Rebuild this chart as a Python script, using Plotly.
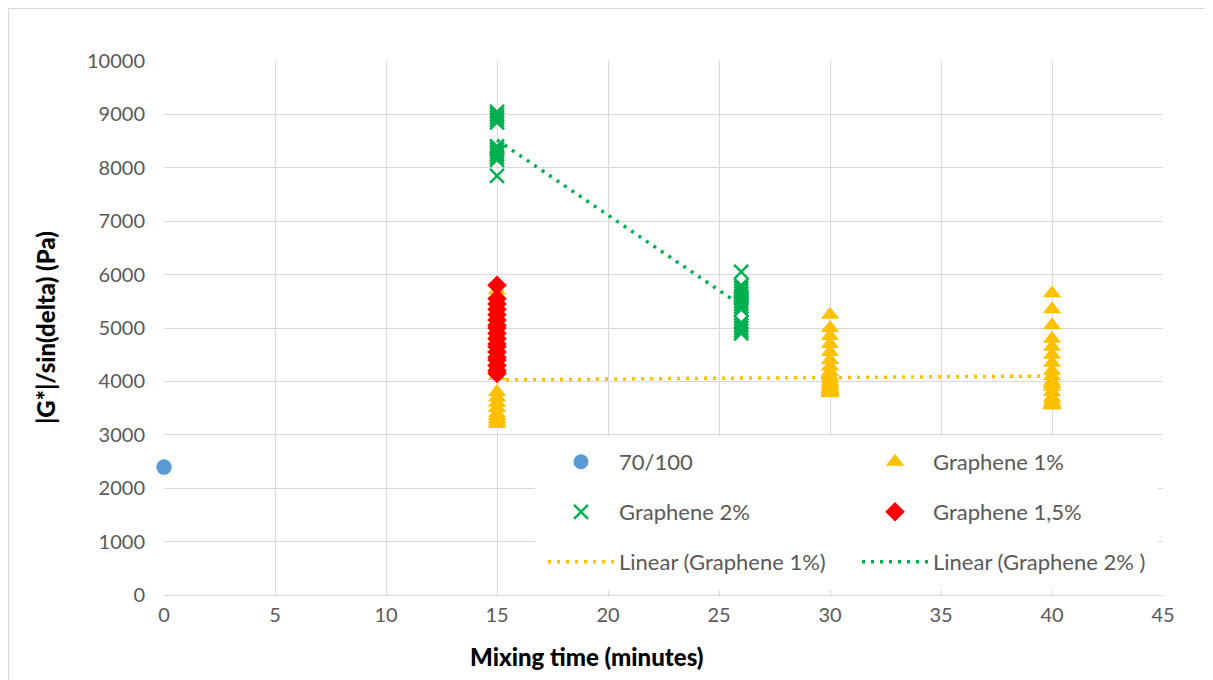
import numpy as np
import plotly.graph_objects as go

# ---- data ----
x_base = [0, 0]
y_base = [2390, 2400]

x_g1 = [15]*19 + [30]*29 + [40]*23
y_g1 = ([3200, 3250, 3300, 3300, 3350, 3400, 3500, 3500, 3600, 3700, 3800,
         4100, 4300, 4500, 4700, 4900, 5100, 5300, 5700] +
        [3780, 3790, 3800, 3810, 3820, 3840, 3860, 3880, 3900, 3930, 3960, 4000,
         4050, 4100, 4180, 4280, 4400, 4550, 4700, 4850, 5000, 5250,
         3800, 3800, 3800, 3800, 3800, 3800, 3800] +
        [3550, 3560, 3580, 3600, 3650, 3700, 3800, 3900, 3950, 4000, 4100, 4200,
         4350, 4500, 4650, 4800, 5050, 5350, 5650, 3560, 3560, 3560, 3560])

x_g2 = [15]*12 + [26]*16
y_g2 = ([7850, 8150, 8200, 8250, 8300, 8350, 8400, 8850, 8900, 8950, 9000, 9050] +
        [4900, 4950, 5000, 5050, 5100, 5350, 5400, 5450, 5500, 5550, 5600, 5650,
         5700, 5750, 5800, 6050])

x_g15 = [15]*18
y_g15 = [4150, 4200, 4300, 4400, 4450, 4550, 4650, 4700, 4800, 4900, 5000, 5050,
         5150, 5250, 5350, 5450, 5550, 5800]

x_ticks = [0, 5, 10, 15, 20, 25, 30, 35, 40, 45]
y_ticks = [0, 1000, 2000, 3000, 4000, 5000, 6000, 7000, 8000, 9000, 10000]
y_tick_text = [str(v) for v in y_ticks]

# ---- trend lines (least squares) ----
def trend(xs, ys):
    b, a = np.polyfit(xs, ys, 1)
    xr = [min(xs), max(xs)]
    return xr, [a + b * v for v in xr]

t1x, t1y = trend(x_g1, y_g1)
t2x, t2y = trend(x_g2, y_g2)

BLUE = "#5B9BD5"
YEL = "#FFC000"
GRN = "#00B050"
RED = "#FF0000"
FONT = "Lato"
GRID = "#D9D9D9"
TXT = "#595959"

fig = go.Figure()
fig.add_trace(go.Scatter(x=t1x, y=t1y, mode="lines", name="Linear (Graphene 1%)",
                         line=dict(color=YEL, width=3.5, dash="3px,6px"), legend="legend5"))
fig.add_trace(go.Scatter(x=t2x, y=t2y, mode="lines", name="Linear (Graphene 2% )",
                         line=dict(color=GRN, width=3.5, dash="3px,6px"), legend="legend6"))
fig.add_trace(go.Scatter(x=x_base, y=y_base, mode="markers", name="70/100", cliponaxis=False,
                         marker=dict(symbol="circle", size=15, color=BLUE), legend="legend"))
fig.add_trace(go.Scatter(x=x_g1, y=y_g1, mode="markers", name="Graphene 1%", cliponaxis=False,
                         marker=dict(symbol="triangle-up", size=16, color=YEL), legend="legend2"))
fig.add_trace(go.Scatter(x=x_g2, y=y_g2, mode="markers", name="Graphene 2%", cliponaxis=False,
                         marker=dict(symbol="x-thin", size=14, color=GRN,
                                     line=dict(color=GRN, width=2.4)), legend="legend3"))
fig.add_trace(go.Scatter(x=x_g15, y=y_g15, mode="markers", name="Graphene 1,5%", cliponaxis=False,
                         marker=dict(symbol="diamond", size=15, color=RED), legend="legend4"))

# page is offset by the 8px body margin of the html page
OFF = 8
W, H = 1213, 680
L, R, T, B = 164, 1163, 61, 595          # plot area in page pixels
def px(xp):
    return (xp - L) / (R - L)
def py(yp):
    return (B - yp) / (B - T)

leg_font = dict(family=FONT, size=22, color=TXT)
def leg(xp, yp):
    return dict(x=px(xp), y=py(yp), xanchor="left", yanchor="middle",
                bgcolor="rgba(0,0,0,0)", font=leg_font, itemwidth=66)

col1, col2 = 543, 857
title_font = dict(family=FONT, size=24, color="black", weight=900)
fig.update_layout(
    width=W, height=H,
    margin=dict(l=L - OFF, r=W - (R - OFF), t=T - OFF, b=H - (B - OFF), autoexpand=False),
    paper_bgcolor="white", plot_bgcolor="white",
    showlegend=True,
    font=dict(family=FONT, color=TXT),
    legend=leg(col1, 462), legend2=leg(col2, 462),
    legend3=leg(col1, 512), legend4=leg(col2, 512),
    legend5=leg(col1, 562), legend6=leg(col2, 562),
    xaxis=dict(range=[0, 45], tickvals=x_ticks, showgrid=True, gridcolor=GRID,
               gridwidth=1, zeroline=False, showline=True, linecolor=GRID,
               ticks="", ticklabelstandoff=2,
               tickfont=dict(family=FONT, size=20, color=TXT)),
    yaxis=dict(range=[0, 10000], tickvals=y_ticks, ticktext=y_tick_text, showgrid=True,
               gridcolor=GRID, gridwidth=1, zeroline=False, showline=False, ticks="",
               ticklabelstandoff=18,
               tickfont=dict(family=FONT, size=20, color=TXT)),
    annotations=[
        dict(text="Mixing time (minutes)", xref="paper", yref="paper",
             x=px(586), y=py(656), xanchor="center", yanchor="middle", showarrow=False,
             font=title_font),
        dict(text="|G*|/sin(delta) (Pa)", xref="paper", yref="paper",
             x=px(45), y=py(328), xanchor="center", yanchor="middle", showarrow=False,
             textangle=-90, font=title_font),
    ],
    shapes=[
        dict(type="rect", xref="paper", yref="paper", x0=px(535), x1=px(1158),
             y0=py(590), y1=py(436), fillcolor="white", line=dict(width=0), layer="above"),
        dict(type="rect", xref="paper", yref="paper", x0=px(8.5), x1=px(1208),
             y0=py(700), y1=py(8.5), fillcolor="rgba(0,0,0,0)",
             line=dict(color=GRID, width=1), layer="below"),
    ],
)

fig.write_html("out.html")
